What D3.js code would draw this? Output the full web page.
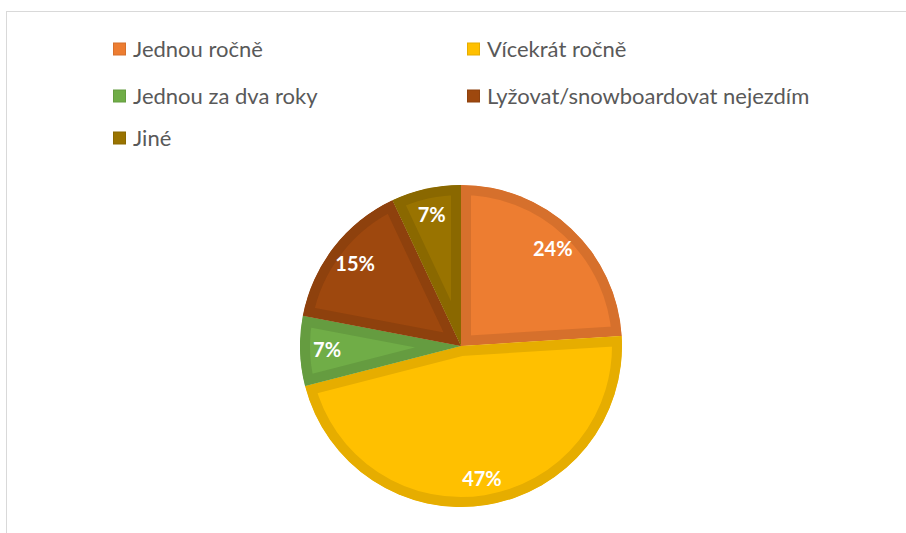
<!DOCTYPE html>
<html>
<head>
<meta charset="utf-8">
<script src="https://cdn.jsdelivr.net/npm/d3@7"></script>
<style>
  body { margin: 0; background: #fff; }
</style>
</head>
<body>
<div id="chart"></div>
<script>
// data
const categories = ["Jednou ročně", "Vícekrát ročně", "Jednou za dva roky", "Lyžovat/snowboardovat nejezdím", "Jiné"];
const shares = [24, 47, 7, 15, 7];
const fills = ["#ED7D31", "#FFC000", "#70AD47", "#9E480E", "#997300"];
const borders = ["#D6702C", "#E6AD00", "#659C40", "#8E410D", "#8A6800"];

const width = 906, height = 533;
const cx = 461, cy = 346, radius = 161;

const svg = d3.select("#chart").append("svg")
    .attr("width", width)
    .attr("height", height);

// chart area frame (runs off the right and bottom edge)
svg.append("rect")
    .attr("x", 6.5)
    .attr("y", 11.5)
    .attr("width", 1000)
    .attr("height", 600)
    .attr("fill", "none")
    .attr("stroke", "#D9D9D9")
    .attr("stroke-width", 1);

// legend
const legendCols = [113, 467];
const legendRows = [49, 96, 138];
const legend = svg.append("g");
categories.forEach(function(c, i) {
  const lx = legendCols[i % 2], ly = legendRows[Math.floor(i / 2)];
  legend.append("rect")
      .attr("x", lx + 0.5)
      .attr("y", ly - 6)
      .attr("width", 12)
      .attr("height", 12)
      .attr("fill", fills[i])
      .attr("stroke", borders[i])
      .attr("stroke-width", 1);
  legend.append("text")
      .attr("x", lx + 20)
      .attr("y", ly)
      .attr("dy", "0.36em")
      .attr("font-family", "Lato, 'Noto Sans', sans-serif")
      .attr("font-size", 22)
      .attr("fill", "#595959")
      .text(c);
});

// pie
const pie = d3.pie().sort(null).value(function(d) { return d; });
const arc = d3.arc().innerRadius(0).outerRadius(radius);
const labelArc = d3.arc().innerRadius(134).outerRadius(134);
const arcs = pie(shares);

const g = svg.append("g")
    .attr("transform", "translate(" + cx + "," + cy + ")");

const defs = svg.append("defs");
arcs.forEach(function(a, i) {
  defs.append("clipPath")
      .attr("id", "clip" + i)
    .append("path")
      .attr("d", arc(a));
});

g.selectAll(".slice")
    .data(arcs)
  .enter().append("path")
    .attr("class", "slice")
    .attr("d", arc)
    .attr("fill", function(d, i) { return fills[i]; })
    .attr("stroke", function(d, i) { return borders[i]; })
    .attr("stroke-width", 20)
    .attr("stroke-linejoin", "miter")
    .attr("clip-path", function(d, i) { return "url(#clip" + i + ")"; });

// data labels
g.selectAll(".lbl")
    .data(arcs)
  .enter().append("text")
    .attr("class", "lbl")
    .attr("transform", function(d) { return "translate(" + labelArc.centroid(d) + ")"; })
    .attr("text-anchor", "middle")
    .attr("dy", "0.36em")
    .attr("font-family", "Lato, 'Noto Sans', sans-serif")
    .attr("font-weight", "bold")
    .attr("font-size", 20)
    .attr("fill", "#fff")
    .text(function(d) { return d.data + "%"; });
</script>
</body>
</html>
